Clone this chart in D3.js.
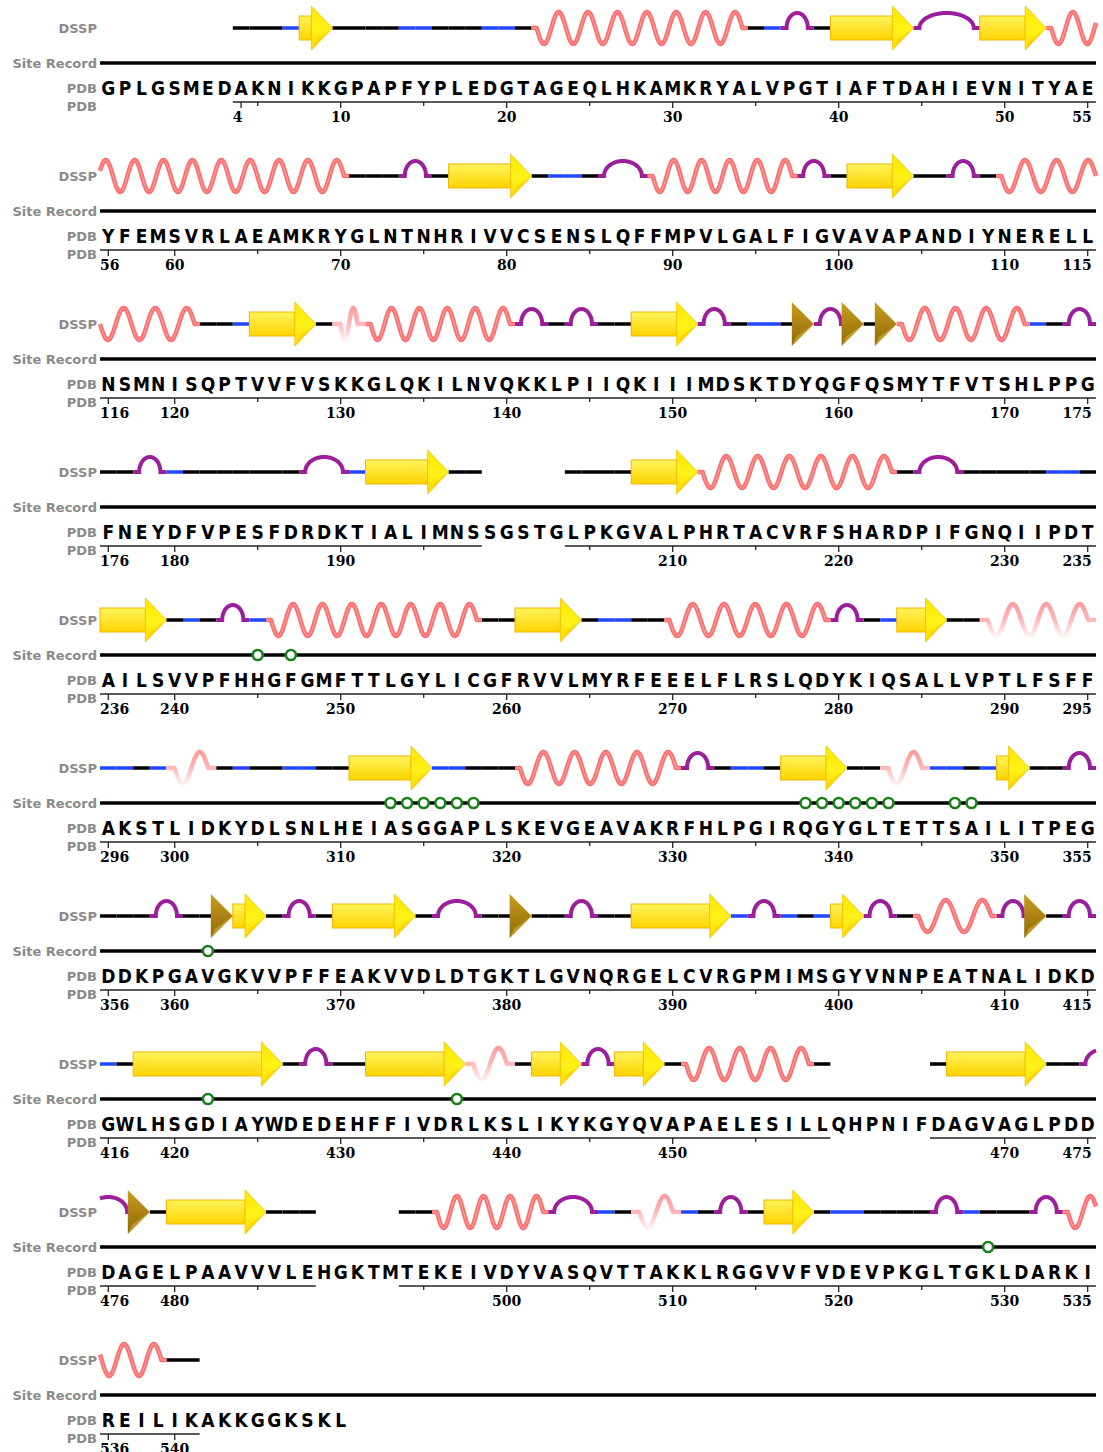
<!DOCTYPE html>
<html>
<head>
<meta charset="utf-8">
<script src="https://cdn.jsdelivr.net/npm/d3@7"></script>
<style>
  body { margin: 0; background: #fff; }
  .lab { font-family: "DejaVu Sans", sans-serif; font-weight: bold; font-size: 13px; fill: #8a8a8a; }
  .aa { font-family: "DejaVu Sans Condensed", "DejaVu Sans", sans-serif; font-stretch: condensed; font-weight: bold; font-size: 19px; fill: #000; }
  .num { font-family: "DejaVu Serif", serif; font-weight: bold; font-size: 14px; fill: #000; }
</style>
</head>
<body>
<svg id="chart" width="1103" height="1452"></svg>
<script>
// ---- data -------------------------------------------------------------
const sequence =
  "GPLGSMEDAKNIKKGPAPFYPLEDGTAGEQLHKAMKRYALVPGTIAFTDAHIEVNITYAE" +
  "YFEMSVRLAEAMKRYGLNTNHRIVVCSENSLQFFMPVLGALFIGVAVAPANDIYNERELL" +
  "NSMNISQPTVVFVSKKGLQKILNVQKKLPIIQKIIIMDSKTDYQGFQSMYTFVTSHLPPG" +
  "FNEYDFVPESFDRDKTIALIMNSSGSTGLPKGVALPHRTACVRFSHARDPIFGNQIIPDT" +
  "AILSVVPFHHGFGMFTTLGYLICGFRVVLMYRFEEELFLRSLQDYKIQSALLVPTLFSFF" +
  "AKSTLIDKYDLSNLHEIASGGAPLSKEVGEAVAKRFHLPGIRQGYGLTETTSAILITPEG" +
  "DDKPGAVGKVVPFFEAKVVDLDTGKTLGVNQRGELCVRGPMIMSGYVNNPEATNALIDKD" +
  "GWLHSGDIAYWDEDEHFFIVDRLKSLIKYKGYQVAPAELESILLQHPNIFDAGVAGLPDD" +
  "DAGELPAAVVVLEHGKTMTEKEIVDYVASQVTTAKKLRGGVVFVDEVPKGLTGKLDARKI" +
  "REILIKAKKGGKSKL";
const firstNumber = -4;
const perRow = 60;

// residues without coordinates (no DSSP, no underline)
const missingRanges = [[-4, 3], [199, 203], [460, 465], [489, 493], [542, 550]];

// DSSP: "-" coil, "S" bend, "E" strand, "B" bridge, "T" turn, "H" alpha helix, "G" 3-10 helix
const dssp = [
  ["-",4,6],["S",7,7],["E",8,9],["-",10,13],["S",14,15],["-",16,18],["S",19,20],["-",21,21],
  ["H",22,34],["-",35,35],["S",36,36],["T",37,38],["-",39,39],["E",40,44],["T",45,48],["E",49,52],
  ["H",53,70],["-",71,73],["T",74,75],["-",76,76],["E",77,81],["-",82,82],["S",83,84],["-",85,85],
  ["T",86,88],["H",89,97],["T",98,99],["-",100,100],["E",101,104],["-",105,106],["T",107,108],["-",109,109],
  ["H",110,121],["-",122,123],["S",124,124],["E",125,128],["-",129,129],["G",130,131],["H",132,140],
  ["T",141,142],["-",143,143],["T",144,145],["-",146,147],["E",148,151],["T",152,153],["-",154,154],
  ["S",155,156],["-",157,157],["B",158,158],["T",159,160],["B",161,161],["-",162,162],["B",163,163],
  ["H",164,171],["S",172,172],["-",173,173],["T",174,175],
  ["-",176,177],["T",178,179],["S",180,180],["-",181,187],["T",188,190],["S",191,191],["E",192,196],["-",197,198],
  ["-",204,207],["E",208,211],["H",212,223],["-",224,224],["T",225,227],["-",228,232],["S",233,234],["-",235,235],
  ["E",236,239],["-",240,240],["S",241,241],["-",242,242],["T",243,244],["S",245,245],["H",246,258],["-",259,260],
  ["E",261,264],["-",265,265],["S",266,267],["-",268,269],["H",270,279],["T",280,281],["-",282,282],["S",283,283],
  ["E",284,286],["-",287,288],["G",289,295],
  ["S",296,297],["-",298,298],["S",299,299],["G",300,302],["-",303,303],["S",304,304],["-",305,306],["S",307,308],
  ["-",309,310],["E",311,315],["S",316,317],["-",318,320],["H",321,330],["T",331,332],["-",333,333],["S",334,335],
  ["-",336,336],["E",337,340],["-",341,342],["G",343,345],["S",346,347],["-",348,348],["S",349,349],["E",350,351],
  ["-",352,353],["T",354,355],
  ["-",356,358],["T",359,360],["-",361,362],["B",363,363],["E",364,365],["-",366,366],["T",367,368],["-",369,369],
  ["E",370,374],["-",375,375],["T",376,378],["-",379,380],["B",381,381],["-",382,383],["T",384,385],["-",386,387],
  ["E",388,393],["S",394,394],["T",395,396],["S",397,397],["-",398,398],["S",399,399],["E",400,401],["T",402,403],
  ["-",404,404],["H",405,409],["T",410,411],["B",412,412],["-",413,413],["T",414,415],
  ["S",416,416],["-",417,417],["E",418,426],["-",427,427],["T",428,429],["-",430,431],["E",432,437],["G",438,440],
  ["-",441,441],["E",442,444],["T",445,446],["E",447,449],["-",450,450],["H",451,458],["-",459,459],
  ["-",466,466],["E",467,472],["-",473,474],["T",475,477],
  ["B",478,478],["-",479,479],["E",480,485],["-",486,488],
  ["-",494,495],["H",496,502],["T",503,505],["S",506,506],["-",507,507],["G",508,510],["S",511,511],["-",512,512],
  ["T",513,514],["-",515,515],["E",516,518],["-",519,519],["S",520,521],["-",522,525],["T",526,527],["S",528,528],
  ["-",529,531],["T",532,533],["H",534,539],["-",540,541]
];

// site record residues
const siteResidues = [245, 247, 313, 314, 315, 316, 317, 318, 338, 339, 340, 341, 342, 343, 347, 348, 362, 422, 437, 529];

// ---- layout -----------------------------------------------------------
const svg = d3.select("#chart");
const nRows = Math.ceil(sequence.length / perRow);
const x = d3.scaleLinear().domain([0, perRow]).range([100, 1096]);
const rowY = d3.scaleLinear().domain([0, 1]).range([0, 148]);
const cell = x(1) - x(0);
const rowWidth = x(perRow) - x(0);

const yDssp = 28, ySite = 63, ySeq = 95, yUnder = 102, yNum = 122;

const idx = n => n - firstNumber;
const observed = n => !missingRanges.some(([a, b]) => n >= a && n <= b);

const colors = {
  "-": "#000", S: "#1f47ff", T: "#9b1e9b", H: "#ff6c6c"
};

// defs
const defs = svg.append("defs");
function vGrad(id, stops, y1, y2) {
  const g = defs.append("linearGradient").attr("id", id);
  if (y1 !== undefined) g.attr("gradientUnits", "userSpaceOnUse").attr("x1", 0).attr("x2", 0).attr("y1", y1).attr("y2", y2);
  else g.attr("x1", 0).attr("y1", 0).attr("x2", 0).attr("y2", 1);
  stops.forEach(([o, c]) => g.append("stop").attr("offset", o).attr("stop-color", c));
}
vGrad("gStrand", [["0%", "#fff45c"], ["100%", "#ffd300"]]);
vGrad("gHead", [["0%", "#ffe600"], ["55%", "#fff21a"], ["100%", "#ffd800"]]);
vGrad("gBridge", [["0%", "#c99d1f"], ["100%", "#8f6a06"]]);
vGrad("gG", [["0%", "#ff9c9c"], ["45%", "#ffb3b3"], ["100%", "#fff6f6"]], yDssp - 17, yDssp + 17);

const rows = d3.range(nRows).map(r => svg.append("g").attr("transform", `translate(0,${rowY(r)})`));

// split a run of unwrapped points {u, dy} into per-row polylines
function splitRows(pts) {
  const out = [];
  let cur = null, curRow = -1;
  pts.forEach((p, k) => {
    let r = Math.floor(p.u / rowWidth + 1e-9);
    if (k === pts.length - 1 && r > 0 && Math.abs(p.u - r * rowWidth) < 1e-6) r -= 1;
    if (r !== curRow) {
      if (cur && k > 0) {
        const q = pts[k - 1];
        const ub = r * rowWidth;
        const t = (ub - q.u) / (p.u - q.u);
        const yb = q.dy + t * (p.dy - q.dy);
        cur.pts.push([x(perRow), yb]);
        cur = { row: r, pts: [[x(0), yb]] };
      } else {
        cur = { row: r, pts: [] };
      }
      out.push(cur);
      curRow = r;
    }
    cur.pts.push([x(0) + p.u - r * rowWidth, p.dy]);
  });
  return out;
}

function wavePts(u0, u1, flat, target, amp) {
  const a = u0 + flat, b = u1 - flat;
  const n = Math.max(1, Math.round((b - a) / target));
  const P = (b - a) / n;
  const pts = [{ u: u0, dy: 0 }];
  for (let u = a; u < b; u += 0.5) pts.push({ u, dy: amp * Math.sin(2 * Math.PI * (u - a) / P) });
  pts.push({ u: b, dy: 0 }, { u: u1, dy: 0 });
  return pts;
}

function archPts(u0, u1, flat, ry) {
  const a = u0 + flat, b = u1 - flat, cx = (a + b) / 2, rx = (b - a) / 2;
  const pts = [{ u: u0, dy: 0 }];
  for (let k = 0; k <= 80; k++) {
    const th = Math.PI * (1 - k / 80);
    pts.push({ u: cx + rx * Math.cos(th), dy: -ry * Math.sin(th) });
  }
  pts.push({ u: u1, dy: 0 });
  return pts;
}

const line = d3.line().curve(d3.curveLinear);

// ---- labels, site record, sequence -----------------------------------
d3.range(nRows).forEach(r => {
  const g = rows[r];
  g.append("text").attr("class", "lab").attr("x", 97).attr("y", yDssp + 5).attr("text-anchor", "end").text("DSSP");
  g.append("text").attr("class", "lab").attr("x", 97).attr("y", ySite + 5).attr("text-anchor", "end").text("Site Record");
  g.append("text").attr("class", "lab").attr("x", 97).attr("y", ySeq - 2).attr("text-anchor", "end").text("PDB");
  g.append("text").attr("class", "lab").attr("x", 97).attr("y", yUnder + 9).attr("text-anchor", "end").text("PDB");

  g.append("line").attr("x1", x(0)).attr("x2", x(perRow)).attr("y1", ySite).attr("y2", ySite)
    .attr("stroke", "#000").attr("stroke-width", 3.5);

  const cols = d3.range(perRow).filter(c => r * perRow + c < sequence.length);
  g.selectAll("text.aa").data(cols).join("text").attr("class", "aa")
    .attr("x", c => x(c) + cell / 2).attr("y", ySeq).attr("text-anchor", "middle")
    .text(c => sequence[r * perRow + c]);

  // underline for observed runs
  let run = null;
  const runs = [];
  cols.forEach(c => {
    const n = firstNumber + r * perRow + c;
    if (observed(n)) { if (run && run[1] === c - 1) run[1] = c; else { run = [c, c]; runs.push(run); } }
  });
  runs.forEach(([c0, c1]) => g.append("line").attr("x1", x(c0)).attr("x2", x(c1 + 1))
    .attr("y1", yUnder).attr("y2", yUnder).attr("stroke", "#222").attr("stroke-width", 1.3));

  // ticks and numbers
  const nums = cols.map(c => firstNumber + r * perRow + c).filter(observed);
  const lastN = firstNumber + r * perRow + perRow - 1;
  nums.forEach(n => {
    const c = idx(n) % perRow, cx = x(c) + cell / 2;
    const isFirst = n === nums[0], isLast = n === lastN, major = isFirst || isLast || n % 10 === 0;
    if (!major && n % 5 !== 0) return;
    g.append("line").attr("x1", cx).attr("x2", cx).attr("y1", yUnder).attr("y2", yUnder + (major ? 6 : 4))
      .attr("stroke", "#222").attr("stroke-width", 1.3);
    if (major) {
      g.append("text").attr("class", "num")
        .attr("x", isFirst ? x(c) : isLast ? cx + 4 : cx).attr("y", yNum)
        .attr("text-anchor", isFirst ? "start" : isLast ? "end" : "middle").text(n);
    }
  });
});

// ---- DSSP ---------------------------------------------------------------
// plain lines: coil and bend, one residue at a time
dssp.filter(d => d[0] === "-" || d[0] === "S").forEach(([t, s, e]) => {
  d3.range(s, e + 1).forEach(n => {
    const i = idx(n), r = Math.floor(i / perRow), c = i % perRow;
    rows[r].append("line").attr("x1", x(c)).attr("x2", x(c + 1)).attr("y1", yDssp).attr("y2", yDssp)
      .attr("stroke", colors[t]).attr("stroke-width", 3.5);
  });
});

// turns
dssp.filter(d => d[0] === "T").forEach(([t, s, e]) => {
  const pts = archPts(idx(s) * cell, (idx(e) + 1) * cell, 6, 15);
  splitRows(pts).forEach(p => {
    rows[p.row].append("path").attr("d", line(p.pts.map(([px, dy]) => [px, yDssp + dy])))
      .attr("fill", "none").attr("stroke", colors.T).attr("stroke-width", 4);
  });
});

// helices
dssp.filter(d => d[0] === "H" || d[0] === "G").forEach(([t, s, e]) => {
  const isH = t === "H";
  const pts = wavePts(idx(s) * cell, (idx(e) + 1) * cell, isH ? 5 : 8, isH ? 30 : 36, 16);
  splitRows(pts).forEach(p => {
    const d = line(p.pts.map(([px, dy]) => [px, yDssp + dy]));
    rows[p.row].append("path").attr("d", d).attr("fill", "none")
      .attr("stroke", isH ? colors.H : "url(#gG)").attr("stroke-width", 4.5)
      .attr("stroke-linejoin", "round");
    if (isH) rows[p.row].append("path").attr("d", d).attr("fill", "none")
      .attr("stroke", "#ffc4c4").attr("stroke-width", 1).attr("opacity", 0.7);
  });
});

// strands
const headW = 21;
dssp.filter(d => d[0] === "E").forEach(([t, s, e]) => {
  const i0 = idx(s), r = Math.floor(i0 / perRow);
  const x0 = x(i0 % perRow), x1 = x(idx(e) % perRow + 1);
  const g = rows[r];
  g.append("rect").attr("x", x0).attr("y", yDssp - 12).attr("width", x1 - headW - x0).attr("height", 24)
    .attr("fill", "url(#gStrand)").attr("stroke", "#f0b400").attr("stroke-width", 1);
  const bx = x1 - headW;
  g.append("path").attr("d", `M${bx},${yDssp - 22}L${x1},${yDssp}L${bx},${yDssp + 22}Z`)
    .attr("fill", "url(#gHead)").attr("stroke", "#f4c000").attr("stroke-width", 0.8);
  g.append("path").attr("d", `M${bx},${yDssp + 22}L${x1},${yDssp}L${bx + 5},${yDssp + 12}Z`)
    .attr("fill", "#ffcf00").attr("opacity", 0.7);
});

// bridges
dssp.filter(d => d[0] === "B").forEach(([t, s]) => {
  const i = idx(s), r = Math.floor(i / perRow);
  const x1 = x(i % perRow + 1), bx = x1 - 22;
  const g = rows[r];
  g.append("path").attr("d", `M${bx},${yDssp - 22}L${x1},${yDssp}L${bx},${yDssp + 22}Z`)
    .attr("fill", "url(#gBridge)");
  g.append("path").attr("d", `M${bx},${yDssp + 22}L${x1},${yDssp}L${bx + 4},${yDssp + 13}Z`)
    .attr("fill", "#d8b13a").attr("opacity", 0.6);
});

// site record markers
siteResidues.forEach(n => {
  const i = idx(n), r = Math.floor(i / perRow);
  rows[r].append("circle").attr("cx", x(i % perRow) + cell / 2).attr("cy", ySite).attr("r", 5)
    .attr("fill", "#fff").attr("stroke", "#1b7f1b").attr("stroke-width", 2.6);
});
</script>
</body>
</html>
